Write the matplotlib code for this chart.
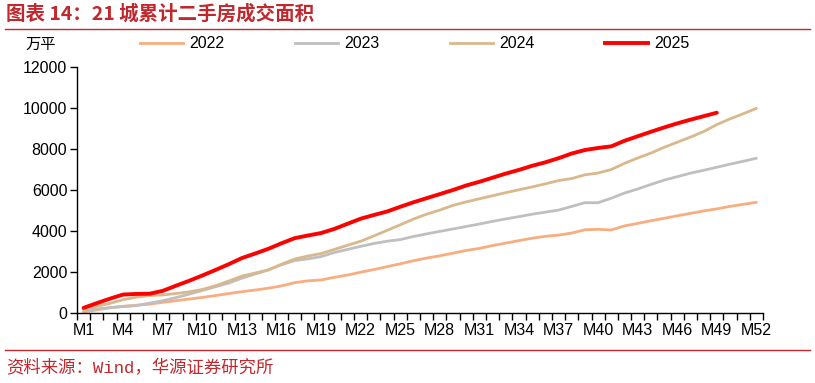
import matplotlib
matplotlib.use('Agg')
import matplotlib.pyplot as plt
from matplotlib.lines import Line2D

plt.rcParams['font.family'] = ['Liberation Sans', 'Noto Sans CJK SC', 'DejaVu Sans']

# weekly cumulative second-hand housing area, 21 cities (10k sqm)
weeks = [f'M{i}' for i in range(1, 53)]
s2022 = [50, 150, 260, 330, 380, 430, 520, 600, 680, 760, 850, 950, 1040, 1120, 1210, 1320,
         1480, 1570, 1610, 1740, 1850, 1990, 2120, 2260, 2400, 2550, 2680, 2790, 2920, 3050,
         3150, 3290, 3410, 3530, 3650, 3740, 3800, 3900, 4060, 4080, 4050, 4250, 4370, 4500,
         4620, 4740, 4860, 4980, 5080, 5200, 5300, 5400]
s2023 = [100, 200, 260, 310, 360, 480, 600, 750, 920, 1100, 1280, 1460, 1700, 1900, 2100, 2350,
         2560, 2640, 2750, 2950, 3100, 3250, 3390, 3500, 3580, 3730, 3860, 3980, 4100, 4220,
         4340, 4470, 4590, 4700, 4820, 4920, 5020, 5200, 5380, 5380, 5600, 5850, 6050, 6270,
         6480, 6650, 6820, 6960, 7110, 7260, 7400, 7550]
s2024 = [150, 330, 470, 650, 770, 850, 880, 950, 1030, 1150, 1330, 1560, 1800, 1950, 2100, 2380,
         2630, 2780, 2900, 3100, 3300, 3500, 3760, 4030, 4300, 4580, 4820, 5020, 5250, 5420,
         5570, 5720, 5870, 6010, 6150, 6300, 6460, 6560, 6740, 6830, 7000, 7300, 7560, 7800,
         8080, 8330, 8580, 8850, 9190, 9470, 9720, 9980]
s2025 = [250, 480, 700, 900, 930, 940, 1080, 1330, 1570, 1830, 2100, 2380, 2680, 2900, 3130,
         3400, 3650, 3780, 3900, 4100, 4350, 4600, 4780, 4950, 5180, 5400, 5600, 5800, 6000,
         6220, 6400, 6600, 6800, 6980, 7180, 7350, 7550, 7780, 7950, 8050, 8130, 8400, 8620,
         8840, 9050, 9250, 9430, 9600, 9770]

series = [('2022', s2022, '#F8AD80', 2.0),
          ('2023', s2023, '#BFBFBF', 2.0),
          ('2024', s2024, '#D8B88C', 2.0),
          ('2025', s2025, '#FF0000', 2.8)]

red = '#C0282D'
fig = plt.figure(figsize=(8.15, 3.83), dpi=100)
ax = fig.add_axes([77 / 815, 1 - 313 / 383, 686 / 815, 246 / 383])

for name, vals, color, lw in series:
    x = list(range(1, len(vals) + 1))
    ax.plot(x, vals, color=color, lw=lw, label=name, solid_capstyle='round')

ax.set_xlim(0.5, 52.5)
ax.set_ylim(0, 12000)
ax.set_yticks(range(0, 12001, 2000))
ax.set_xticks(range(1, 53, 3))
ax.set_xticklabels(weeks[::3])
ax.set_xticks([i + 0.5 for i in range(0, 53)], minor=True)
ax.tick_params(axis='x', which='major', length=0, labelsize=11.5, pad=7)
ax.tick_params(axis='x', which='minor', length=5, width=1, direction='out')
ax.tick_params(axis='y', length=5, width=1, direction='out', labelsize=11.5, pad=2)
for side in ['top', 'right']:
    ax.spines[side].set_visible(False)
ax.spines['left'].set_linewidth(1)
ax.spines['bottom'].set_linewidth(1)

handles = [Line2D([], [], color=c, lw=lw) for _, _, c, lw in series]
fig.legend(handles, [s[0] for s in series], loc='center left',
           bbox_to_anchor=(140 / 815, 1 - 44 / 383), ncol=4, frameon=False,
           fontsize=11.5, handlelength=2.7, handletextpad=0.4, columnspacing=4.4,
           borderpad=0, borderaxespad=0)

fig.text(25 / 815, 1 - 44 / 383, '万平', fontsize=11, va='center',
         family=['Noto Sans CJK SC', 'DejaVu Sans'])

fig.text(6 / 815, 1 - 14 / 383, '图表 14：21 城累计二手房成交面积', fontsize=14, fontweight='bold',
         color=red, va='center', family=['Noto Sans CJK SC', 'DejaVu Sans'])
fig.add_artist(Line2D([5 / 815, 810 / 815], [1 - 29 / 383] * 2, color=red, lw=1))
fig.add_artist(Line2D([5 / 815, 810 / 815], [1 - 350 / 383] * 2, color=red, lw=1))
fig.text(6 / 815, 1 - 368 / 383, '资料来源：Wind，华源证券研究所', fontsize=12.5, color=red,
         va='center', family=['Liberation Mono', 'Noto Sans CJK SC', 'DejaVu Sans'])

fig.savefig('out.png', dpi=100)
